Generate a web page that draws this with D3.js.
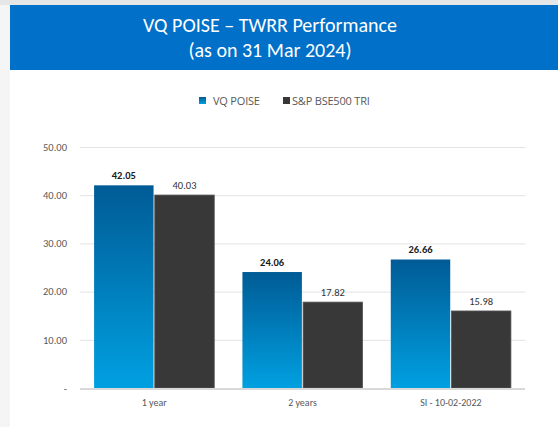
<!DOCTYPE html>
<html><head><meta charset="utf-8">
<script src="https://cdn.jsdelivr.net/npm/d3@7"></script>
<style>body{margin:0;background:#fff;}svg{display:block;}</style>
</head><body>
<svg id="c" width="558" height="427"></svg>
<script>
const categories = ["1 year", "2 years", "SI - 10-02-2022"];
const seriesNames = ["VQ POISE", "S&P BSE500 TRI"];
const vqPoise = [42.05, 24.06, 26.66];
const bse500 = [40.03, 17.82, 15.98];
const yTicks = [0, 10, 20, 30, 40, 50];
const titleLines = ["VQ POISE \u2013 TWRR Performance", "(as on 31 Mar 2024)"];

const svg = d3.select("#c");
const font = "Carlito, Lato, 'Open Sans', sans-serif";
const legFont = "'Open Sans', sans-serif";
const defs = svg.append("defs");
const g = defs.append("linearGradient").attr("id","blueGrad").attr("x1",0).attr("y1",0).attr("x2",0).attr("y2",1);
g.append("stop").attr("offset","0%").attr("stop-color","#005b95");
g.append("stop").attr("offset","100%").attr("stop-color","#00a0e1");

// page background
svg.append("rect").attr("width",558).attr("height",427).attr("fill","#ffffff");
svg.append("rect").attr("x",0).attr("y",0).attr("width",10).attr("height",427).attr("fill","#f5f5f5");
svg.append("rect").attr("x",0).attr("y",0).attr("width",558).attr("height",5).attr("fill","#e6e6e6");
svg.append("rect").attr("x",10).attr("y",5).attr("width",548).attr("height",65).attr("fill","#0070c9");
svg.selectAll("text.title").data(titleLines).enter().append("text")
  .attr("class","title").attr("x",270).attr("y",(d,i)=>32+i*25)
  .attr("text-anchor","middle").attr("fill","#ffffff")
  .attr("font-family",font).attr("font-size",20).text(d=>d);

const m = {l:80, r:525, t:147, b:388};
const y = d3.scaleLinear().domain([0,50]).range([m.b, m.t]);
const x0 = d3.scaleBand().domain(categories).range([m.l, m.r]).paddingInner(0.19).paddingOuter(0.095);
const x1 = d3.scaleBand().domain(seriesNames).range([0, x0.bandwidth()]).paddingInner(0.02);

// gridlines
svg.append("g").selectAll("line").data(yTicks.filter(d=>d>0)).enter().append("line")
  .attr("x1",m.l).attr("x2",m.r).attr("y1",d=>y(d)+0.5).attr("y2",d=>y(d)+0.5)
  .attr("stroke","#e3e3e3").attr("stroke-width",1);

// y axis labels
const yAxis = d3.axisLeft(y).tickValues(yTicks).tickSize(0).tickPadding(13)
  .tickFormat(d=> d===0 ? "-" : d3.format(".2f")(d));
const ya = svg.append("g").attr("transform",`translate(${m.l},0)`).call(yAxis);
ya.select(".domain").remove();
ya.selectAll("text").attr("font-family",font).attr("font-size",10.5).attr("fill","#595959");

const data = categories.map((c,i)=>({cat:c, vals:[{s:seriesNames[0],v:vqPoise[i]},{s:seriesNames[1],v:bse500[i]}]}));
const grp = svg.append("g").selectAll("g").data(data).enter().append("g")
  .attr("transform",d=>`translate(${x0(d.cat)},0)`);
grp.selectAll("rect").data(d=>d.vals).enter().append("rect")
  .attr("x",d=>x1(d.s)).attr("width",x1.bandwidth())
  .attr("y",d=>y(d.v)).attr("height",d=>y(0)-y(d.v))
  .attr("fill",d=>d.s===seriesNames[0]?"url(#blueGrad)":"#383838")
  .attr("stroke",d=>d.s===seriesNames[0]?"none":"#555555").attr("stroke-width",0.8);
grp.selectAll("text").data(d=>d.vals).enter().append("text")
  .attr("x",d=>x1(d.s)+x1.bandwidth()/2).attr("y",d=>y(d.v)-6)
  .attr("text-anchor","middle").attr("font-family",font).attr("font-size",10.5)
  .attr("font-weight",d=>d.s===seriesNames[0]?"bold":"normal")
  .attr("fill",d=>d.s===seriesNames[0]?"#1a1a1a":"#333333")
  .text(d=>d3.format(".2f")(d.v));

// baseline
svg.append("line").attr("x1",m.l).attr("x2",m.r).attr("y1",m.b+1).attr("y2",m.b+1)
  .attr("stroke","#d9d9d9").attr("stroke-width",2);

// x axis labels
const xAxis = d3.axisBottom(x0).tickSize(0).tickPadding(10);
const xa = svg.append("g").attr("transform",`translate(0,${m.b+1})`).call(xAxis);
xa.select(".domain").remove();
xa.selectAll("text").attr("font-family",font).attr("font-size",10).attr("fill","#595959");

// legend
const legX = [199, 283];
const leg = svg.append("g").selectAll("g").data(seriesNames).enter().append("g")
  .attr("transform",(d,i)=>`translate(${legX[i]},97)`);
leg.append("rect").attr("width",7).attr("height",7)
  .attr("fill",(d,i)=>i===0?"url(#blueGrad)":"#383838");
leg.append("text").attr("x",(d,i)=>i===0?14:9).attr("y",7.8)
  .attr("font-family",legFont).attr("font-size",11).attr("letter-spacing",-0.2)
  .attr("fill","#595959").text(d=>d);
</script>
</body></html>
